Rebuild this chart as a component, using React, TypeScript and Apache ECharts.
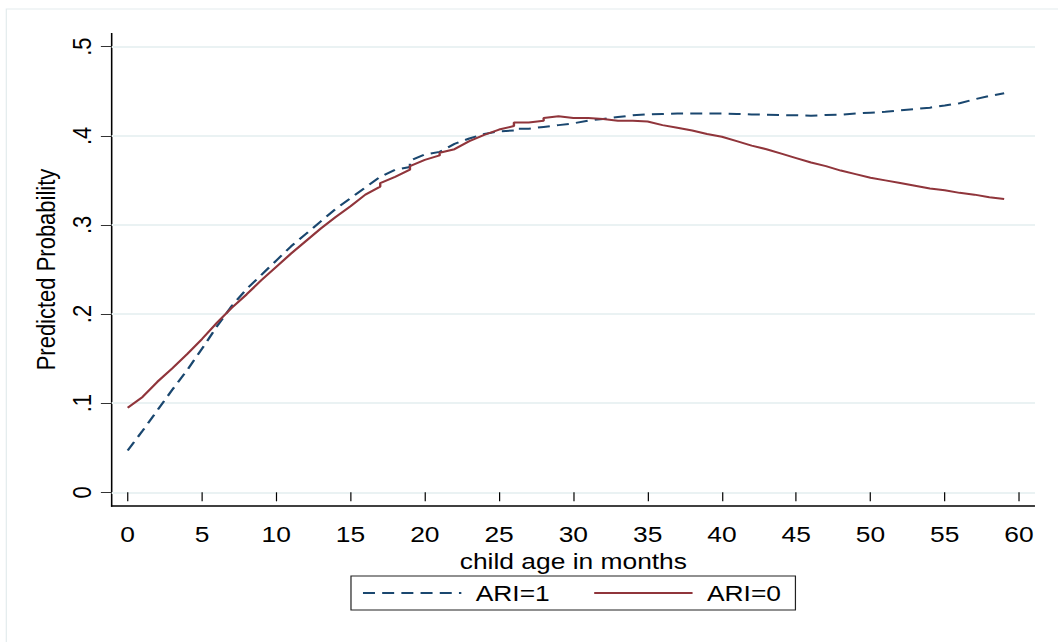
import React, { useEffect, useRef } from "react";
import * as echarts from "echarts";

// ---- data ----
const ageARI1 = [0,1,2,3,4,5,6,7,8,9,10,11,12,13,14,15,16,17,18,19,19,20,21,22,23,24,25,26,26,27,28,29,30,31,32,33,34,35,36,37,38,39,40,41,42,43,44,45,46,47,48,49,50,51,52,53,54,55,56,57,58,59];
const probARI1 = [0.047,0.069,0.092,0.115,0.137,0.161,0.186,0.209,0.228,0.244,0.260,0.276,0.290,0.304,0.318,0.330,0.342,0.354,0.362,0.365,0.372,0.379,0.382,0.391,0.397,0.402,0.405,0.406,0.408,0.408,0.410,0.412,0.414,0.417,0.419,0.421,0.423,0.424,0.4245,0.425,0.425,0.425,0.425,0.4245,0.424,0.4237,0.4233,0.423,0.4226,0.4233,0.4237,0.425,0.426,0.427,0.4286,0.430,0.4316,0.434,0.4365,0.441,0.4447,0.4477];

const ageARI0 = [0,1,2,3,4,5,6,7,8,9,10,11,12,13,14,15,16,17,17,18,19,19,20,21,21,22,23,24,25,26,26,27,28,28,29,30,31,32,33,34,35,36,37,38,39,40,41,42,43,44,45,46,47,48,49,50,51,52,53,54,55,56,57,58,59];
const probARI0 = [0.095,0.107,0.124,0.139,0.155,0.172,0.190,0.207,0.222,0.238,0.253,0.268,0.282,0.296,0.309,0.321,0.334,0.343,0.347,0.354,0.362,0.366,0.373,0.378,0.381,0.385,0.394,0.401,0.407,0.411,0.415,0.415,0.417,0.420,0.422,0.420,0.420,0.419,0.417,0.417,0.416,0.412,0.409,0.406,0.402,0.399,0.394,0.389,0.385,0.380,0.375,0.370,0.366,0.361,0.357,0.353,0.350,0.347,0.344,0.341,0.339,0.336,0.334,0.331,0.329];

const seriesNames = ["ARI=1", "ARI=0"];
const xTitle = "child age in months";
const yTitle = "Predicted Probability";

// ---- layout (inner canvas is stretched horizontally like the reference) ----
const INNER_W = 882;
const H = 642;
const SX = 1058 / INNER_W;
const FONT = "'Liberation Sans', Arial, Helvetica, sans-serif";
const BLUE = "#1a476f";
const RED = "#90353b";

export default function App() {
  const ref = useRef<HTMLDivElement>(null);

  useEffect(() => {
    if (!ref.current) return;
    const chart = echarts.init(ref.current, undefined, { renderer: "svg" });
    const yAxisX = 93.1;
    const plotRight = 862.8;
    const option: any = {
      animation: false,
      backgroundColor: "#ffffff",
      textStyle: { fontFamily: FONT },
      grid: [
        { left: yAxisX, right: INNER_W - plotRight, top: 46.7, bottom: H - 492.3 },
        { left: 106.45, right: INNER_W - 849.5, top: 46.7, bottom: H - 492.3 },
      ],
      xAxis: [
        { gridIndex: 0, type: "value", min: 0, max: 1, show: false },
        {
          gridIndex: 1,
          type: "value",
          min: 0,
          max: 60,
          interval: 5,
          offset: 13.7,
          axisLine: { show: false },
          axisTick: { show: true, length: 9, lineStyle: { color: "#000", width: 1 } },
          axisLabel: { fontSize: 22, color: "#000", margin: 17, fontFamily: FONT },
          splitLine: { show: false },
          name: xTitle,
          nameLocation: "middle",
          nameGap: 34,
          nameTextStyle: { fontSize: 22, color: "#000", fontFamily: FONT },
        },
      ],
      yAxis: [
        {
          gridIndex: 0,
          type: "value",
          min: 0,
          max: 0.5,
          interval: 0.1,
          axisLine: { show: false },
          axisTick: { show: true, length: 9, lineStyle: { color: "#333", width: 1 } },
          axisLabel: {
            fontSize: 22,
            color: "#000",
            rotate: 90,
            margin: 14,
            fontFamily: FONT,
            formatter: (v: number) => (v === 0 ? "0" : v.toFixed(1).replace(/^0/, "")),
          },
          splitLine: { show: true, lineStyle: { color: "#eaf2f3", width: 2 } },
          name: yTitle,
          nameLocation: "middle",
          nameGap: 38,
          nameTextStyle: { fontSize: 22, color: "#000", fontFamily: FONT },
        },
        { gridIndex: 1, type: "value", min: 0, max: 0.5, show: false },
      ],
      legend: {
        data: seriesNames,
        left: 292.6,
        top: 576,
        orient: "horizontal",
        itemWidth: 82,
        itemHeight: 14,
        itemGap: 36,
        padding: [6, 12, 6, 9],
        borderColor: "#222",
        borderWidth: 1,
        itemStyle: { opacity: 0, borderWidth: 0 },
        textStyle: { fontSize: 22, color: "#000", fontFamily: FONT, padding: [0, 0, 0, 7] },
      },
      graphic: [
        {
          type: "rect",
          silent: true,
          shape: { x: 5.25, y: 9, width: 900, height: 700 },
          style: { fill: "none", stroke: "#e3ebed", lineWidth: 1 },
        },
        {
          type: "line",
          silent: true,
          shape: { x1: yAxisX, y1: 33, x2: yAxisX, y2: 506.7 },
          style: { stroke: "#000", lineWidth: 1.3 },
        },
        {
          type: "line",
          silent: true,
          shape: { x1: yAxisX - 0.6, y1: 506, x2: plotRight, y2: 506 },
          style: { stroke: "#000", lineWidth: 1.5 },
        },
      ],
      series: [
        {
          name: seriesNames[0],
          type: "line",
          xAxisIndex: 1,
          yAxisIndex: 1,
          showSymbol: false,
          symbol: "none",
          data: ageARI1.map((a, i) => [a, probARI1[i]]),
          lineStyle: { color: BLUE, width: 2, type: [10, 6] },
          itemStyle: { color: BLUE },
          z: 2,
        },
        {
          name: seriesNames[1],
          type: "line",
          xAxisIndex: 1,
          yAxisIndex: 1,
          showSymbol: false,
          symbol: "none",
          data: ageARI0.map((a, i) => [a, probARI0[i]]),
          lineStyle: { color: RED, width: 2, type: "solid" },
          itemStyle: { color: RED },
          z: 3,
        },
      ],
    };
    chart.setOption(option);
    return () => chart.dispose();
  }, []);

  return (
    <div
      ref={ref}
      style={{
        position: "absolute",
        left: 0,
        top: 0,
        width: INNER_W,
        height: H,
        transform: `scaleX(${SX})`,
        transformOrigin: "0 0",
        background: "#fff",
      }}
    />
  );
}
